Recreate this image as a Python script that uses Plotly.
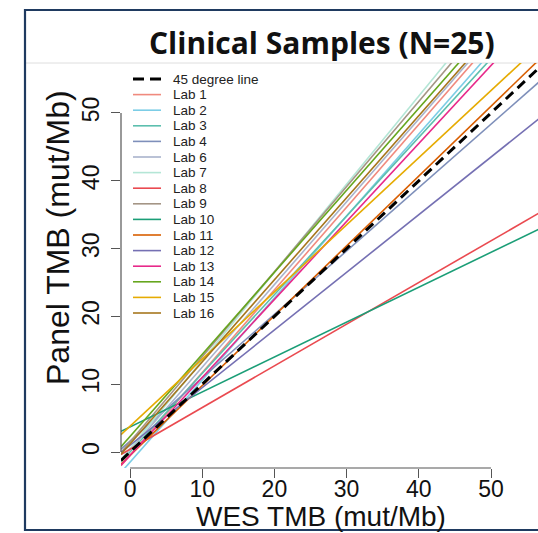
import plotly.graph_objects as go
import numpy as np

# ---- data ----
labs = ["Lab 1", "Lab 2", "Lab 3", "Lab 4", "Lab 6", "Lab 7", "Lab 8", "Lab 9",
        "Lab 10", "Lab 11", "Lab 12", "Lab 13", "Lab 14", "Lab 15", "Lab 16"]
intercepts = [-0.5, -1.5, 0.0, 1.6, 0.3, 0.5, 0.4, 1.5,
              3.7, -0.5, 1.0, -0.5, 2.3, 3.8, 1.2]
slopes = [1.22, 1.21, 1.16, 0.935, 1.22, 1.30, 0.615, 1.255,
          0.515, 1.03, 0.85, 1.15, 1.21, 0.99, 1.21]
colors = ["#f08a7e", "#7ccde6", "#5cbfae", "#7e8fba", "#a9b3cc", "#b4e6d6", "#ea4a50", "#a49585",
          "#1b9e77", "#d95f02", "#7570b3", "#e7298a", "#66a61e", "#e6ab02", "#a6761d"]
ref_name = "45 degree line"
ref_intercept = 0.0
ref_slope = 1.0
x_ticks = [0, 10, 20, 30, 40, 50]
y_ticks = [0, 10, 20, 30, 40, 50]
title = "Clinical Samples (N=25)"
x_title = "WES TMB (mut/Mb)"
y_title = "Panel TMB (mut/Mb)"

# ---- layout geometry (pixels) ----
W, H = 538, 533
L, R, T, B = 121, 538, 63, 468
x_range = [-1.25, 56.51]
y_range = [-2.36, 57.37]


def px(p):
    return (p - L) / (R - L)


def py(q):
    return (B - q) / (B - T)


xs = np.array([x_range[0], 60.0])

fig = go.Figure()
for name, a, b, c in zip(labs, intercepts, slopes, colors):
    fig.add_trace(go.Scatter(x=xs, y=a + b * xs, mode="lines", name=name,
                             line=dict(color=c, width=1.6), showlegend=False,
                             hoverinfo="skip"))
fig.add_trace(go.Scatter(x=xs, y=ref_intercept + ref_slope * xs, mode="lines", name=ref_name,
                         line=dict(color="black", width=3, dash="10px,6px"), showlegend=False,
                         hoverinfo="skip"))

shapes = []
annotations = []

# frame and separator
shapes.append(dict(type="rect", xref="paper", yref="paper", x0=px(25), x1=px(548),
                   y0=py(530), y1=py(10), line=dict(color="#1f3a60", width=2.2), layer="above"))
shapes.append(dict(type="line", xref="paper", yref="paper", x0=px(26), x1=px(538),
                   y0=py(63), y1=py(63), line=dict(color="#dedede", width=1), layer="below"))

# R-style axis lines spanning the tick range
shapes.append(dict(type="line", xref="x", yref="paper", x0=x_ticks[0], x1=x_ticks[-1],
                   y0=0, y1=0, line=dict(color="#555555", width=1.2)))
shapes.append(dict(type="line", xref="paper", yref="y", x0=0, x1=0,
                   y0=y_ticks[0], y1=y_ticks[-1], line=dict(color="#555555", width=1.2)))

# manual legend
entries = [(ref_name, "black", True)] + [(n, c, False) for n, c in zip(labs, colors)]
for i, (n, c, dashed) in enumerate(entries):
    yy = 79 + 15.6 * i
    if dashed:
        shapes.append(dict(type="line", xref="paper", yref="paper", x0=px(133), x1=px(161),
                           y0=py(yy), y1=py(yy),
                           line=dict(color="black", width=3, dash="11px,6px")))
    else:
        shapes.append(dict(type="line", xref="paper", yref="paper", x0=px(133), x1=px(161),
                           y0=py(yy), y1=py(yy), line=dict(color=c, width=1.6)))
    annotations.append(dict(text=n, xref="paper", yref="paper", x=px(171), y=py(yy),
                            xanchor="left", yanchor="middle", showarrow=False,
                            font=dict(family="Liberation Sans, Arial", size=13.5, color="#222222")))

# titles
annotations.append(dict(text="<b>" + title + "</b>", xref="paper", yref="paper",
                        x=px(322), y=py(42), xanchor="center", yanchor="middle", showarrow=False,
                        font=dict(family="Open Sans", size=30, color="#111111")))
annotations.append(dict(text=x_title, xref="paper", yref="paper",
                        x=px(321), y=py(516), xanchor="center", yanchor="middle", showarrow=False,
                        font=dict(family="Liberation Sans, Arial", size=28, color="#111111")))
annotations.append(dict(text=y_title, xref="paper", yref="paper", textangle=-90,
                        x=px(58), y=py(238), xanchor="center", yanchor="middle", showarrow=False,
                        font=dict(family="Liberation Sans, Arial", size=32, color="#111111")))

fig.update_layout(
    width=W, height=H,
    margin=dict(l=L, r=W - R, t=T, b=H - B, pad=0),
    paper_bgcolor="white", plot_bgcolor="white",
    shapes=shapes, annotations=annotations,
    showlegend=False,
    xaxis=dict(range=x_range, tickvals=x_ticks, ticktext=[str(v) for v in x_ticks],
               showgrid=False, zeroline=False, showline=False,
               ticks="outside", ticklen=9, tickwidth=1.2, tickcolor="#555555",
               ticklabelstandoff=-9,
               tickfont=dict(family="Liberation Sans, Arial", size=23, color="#111111")),
    yaxis=dict(range=y_range, tickvals=y_ticks, ticktext=[str(v) for v in y_ticks],
               showgrid=False, zeroline=False, showline=False, tickangle=-90,
               ticks="outside", ticklen=9, tickwidth=1.2, tickcolor="#555555",
               ticklabelstandoff=3,
               tickfont=dict(family="Liberation Sans, Arial", size=23, color="#111111")),
)

fig.write_html("out.html", config={"displayModeBar": False},
               post_script="document.body.style.margin='0';")
